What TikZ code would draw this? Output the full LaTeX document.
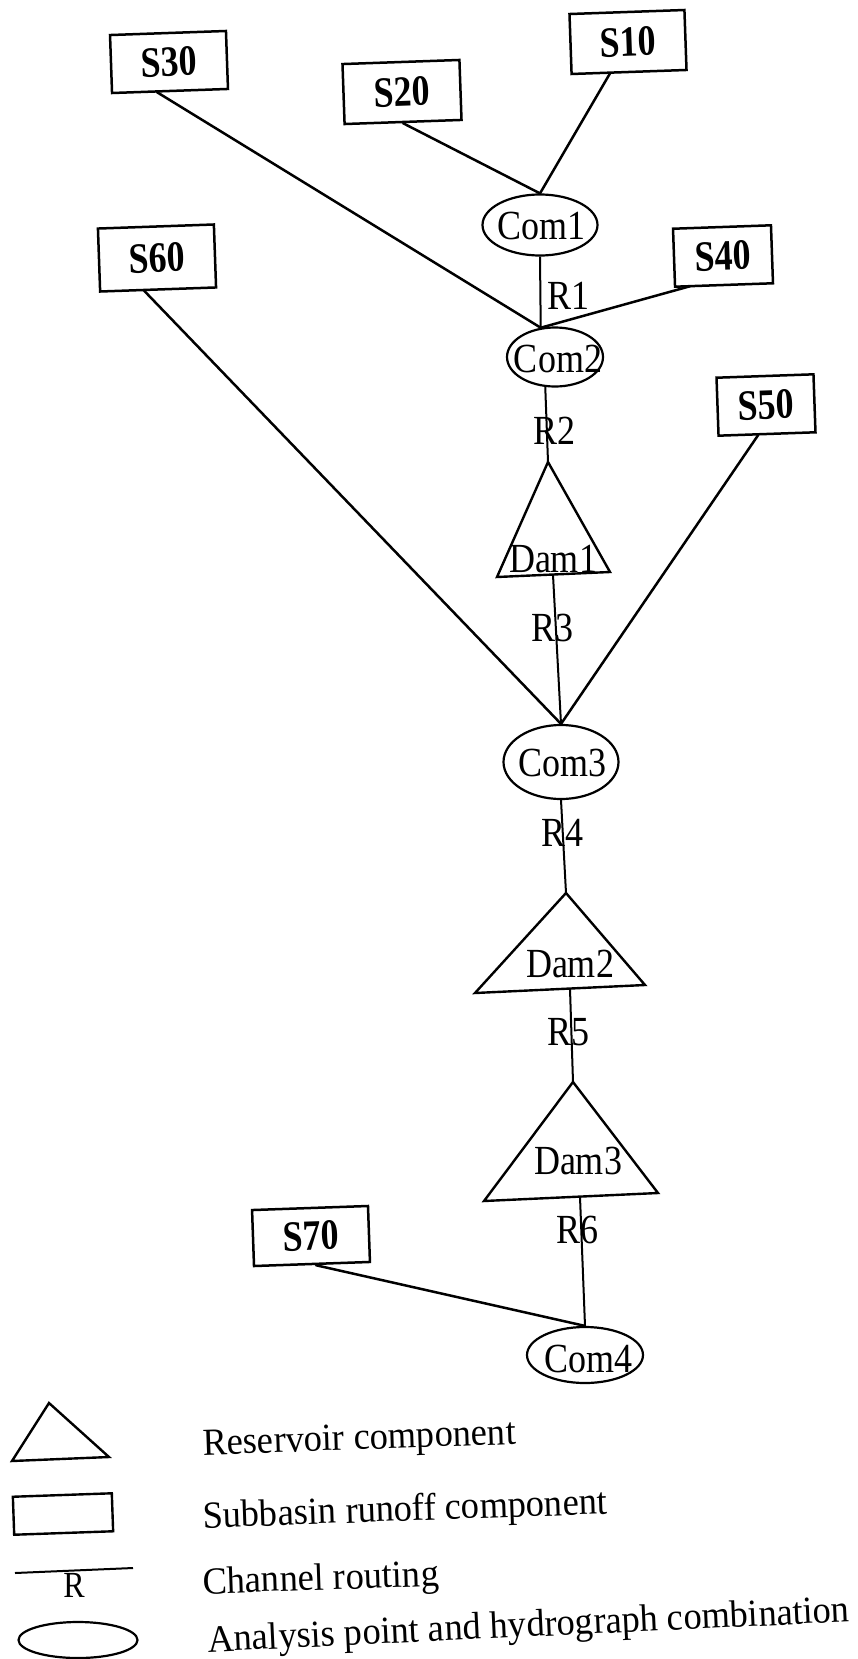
\documentclass[tikz,border=0pt]{standalone}
\usepackage{graphicx}
\usepackage{fontspec}
\setmainfont{Liberation Serif}
\usetikzlibrary{shapes.geometric}

% labels are set a little taller than the font's natural shape
\newcommand\tallbox[2][1.15]{\scalebox{1}[#1]{#2}}

\begin{document}
\begin{tikzpicture}[x=1pt,y=-1pt,
  subbasin/.style={draw, rectangle, line width=2.5pt, inner sep=0pt, rotate=2,
    font=\fontsize{36}{40}\selectfont\bfseries},
  comb/.style={draw, ellipse, line width=2.2pt, inner sep=0pt},
  tag/.style={inner sep=0pt, font=\fontsize{36}{40}\selectfont},
  link/.style={line width=2.5pt, line cap=round},
  reach/.style={line width=2pt},
  damshape/.style={line width=2.4pt, line join=miter},
  keytext/.style={anchor=base west, inner sep=0pt, font=\fontsize{36.5}{44}\selectfont},
]
\useasboundingbox[fill=white] (0,0) rectangle (858,1659);

% subbasin runoff boxes
\node[subbasin, minimum width=115, minimum height=60] (S10) at (628,42)   {\tallbox[1.2]{S10}};
\node[subbasin, minimum width=117, minimum height=60] (S20) at (402,92)   {\tallbox[1.2]{S20}};
\node[subbasin, minimum width=116, minimum height=58] (S30) at (169,62)   {\tallbox[1.2]{S30}};
\node[subbasin, minimum width=98,  minimum height=58] (S40) at (723,256)  {\tallbox[1.2]{S40}};
\node[subbasin, minimum width=97,  minimum height=58] (S50) at (766,405)  {\tallbox[1.2]{S50}};
\node[subbasin, minimum width=116, minimum height=63] (S60) at (157,258)  {\tallbox[1.2]{S60}};
\node[subbasin, minimum width=116, minimum height=56] (S70) at (311,1236) {\tallbox[1.2]{S70}};

% combination points
\node[comb, minimum width=115, minimum height=61] (Com1) at (540,225)  {};
\node[comb, minimum width=96,  minimum height=59] (Com2) at (555,357)  {};
\node[comb, minimum width=115, minimum height=74] (Com3) at (561,762)  {};
\node[comb, minimum width=116, minimum height=56] (Com4) at (585,1355) {};
\node[tag] (Com1-t) at (541,226)  {\tallbox{Com1}};
\node[tag] (Com2-t) at (558,359)  {\tallbox{Com2}};
\node[tag] (Com3-t) at (562,763)  {\tallbox{Com3}};
\node[tag] (Com4-t) at (588,1359) {\tallbox{Com4}};

% reservoirs
\coordinate (d1top) at (548,462);
\coordinate (d1l)   at (497,577);
\coordinate (d1r)   at (610,572);
\coordinate (d1out) at (553,575);
\coordinate (d2top) at (566,893);
\coordinate (d2l)   at (475,993);
\coordinate (d2r)   at (645,985);
\coordinate (d2out) at (570,989);
\coordinate (d3top) at (573,1082);
\coordinate (d3l)   at (484,1201);
\coordinate (d3r)   at (658,1193);
\coordinate (d3out) at (580,1197);
\draw[damshape] (d1top) -- (d1l) -- (d1r) -- cycle;
\draw[damshape] (d2top) -- (d2l) -- (d2r) -- cycle;
\draw[damshape] (d3top) -- (d3l) -- (d3r) -- cycle;
\node[tag] (Dam1) at (553,559)  {\tallbox{Dam1}};
\node[tag] (Dam2) at (570,964)  {\tallbox{Dam2}};
\node[tag] (Dam3) at (578,1161) {\tallbox{Dam3}};

% runoff connectors
\draw[link] ([xshift=-19]S10.south) -- (Com1.north);
\draw[link] (S20.south) -- (Com1.north);
\draw[link] ([xshift=-13]S30.south) -- (Com2.116);
\draw[link] ([xshift=-34]S40.south) -- (Com2.116);
\draw[link] ([xshift=-14]S60.south) -- (Com3.north);
\draw[link] ([xshift=-9]S50.south) -- (Com3.north);
\draw[link] ([xshift=4]S70.south) -- (Com4.north);

% channel reaches
\draw[reach] (Com1.south) -- (Com2.116);
\draw[reach] (Com2.252) -- (d1top);
\draw[reach] (d1out) -- (Com3.north);
\draw[reach] (Com3.south) -- (d2top);
\draw[reach] (d2out) -- (d3top);
\draw[reach] (d3out) -- (Com4.north);
\node[tag] (R1) at (568,296)  {\tallbox{R1}};
\node[tag] (R2) at (554,431)  {\tallbox{R2}};
\node[tag] (R3) at (552,628)  {\tallbox{R3}};
\node[tag] (R4) at (562,833)  {\tallbox{R4}};
\node[tag] (R5) at (568,1032) {\tallbox{R5}};
\node[tag] (R6) at (577,1230) {\tallbox{R6}};

% legend
\coordinate (kt) at (49,1403);
\coordinate (kl) at (12,1461);
\coordinate (kr) at (109,1457);
\draw[damshape] (kt) -- (kl) -- (kr) -- cycle;
\node[draw, rectangle, line width=2.4pt, inner sep=0pt, rotate=2,
      minimum width=99, minimum height=38] (keyBox) at (63,1514) {};
\coordinate (kc1) at (15,1573);
\coordinate (kc2) at (133,1568);
\draw[reach] (kc1) -- (kc2);
\node[inner sep=0pt, font=\fontsize{32}{36}\selectfont] (keyR) at (74,1585) {\tallbox{R}};
\node[comb, minimum width=119, minimum height=36] (keyEll) at (78,1640) {};

\node[keytext, rotate=2]   (k1) at (203,1455) {\tallbox[1.05]{Reservoir component}};
\node[keytext, rotate=2]   (k2) at (203,1528) {\tallbox[1.05]{Subbasin runoff component}};
\node[keytext, rotate=2]   (k3) at (203,1594) {\tallbox[1.05]{Channel routing}};
\node[keytext, rotate=2.7] (k4) at (208,1652) {\tallbox[1.05]{Analysis point and hydrograph combination}};
\end{tikzpicture}
\end{document}
